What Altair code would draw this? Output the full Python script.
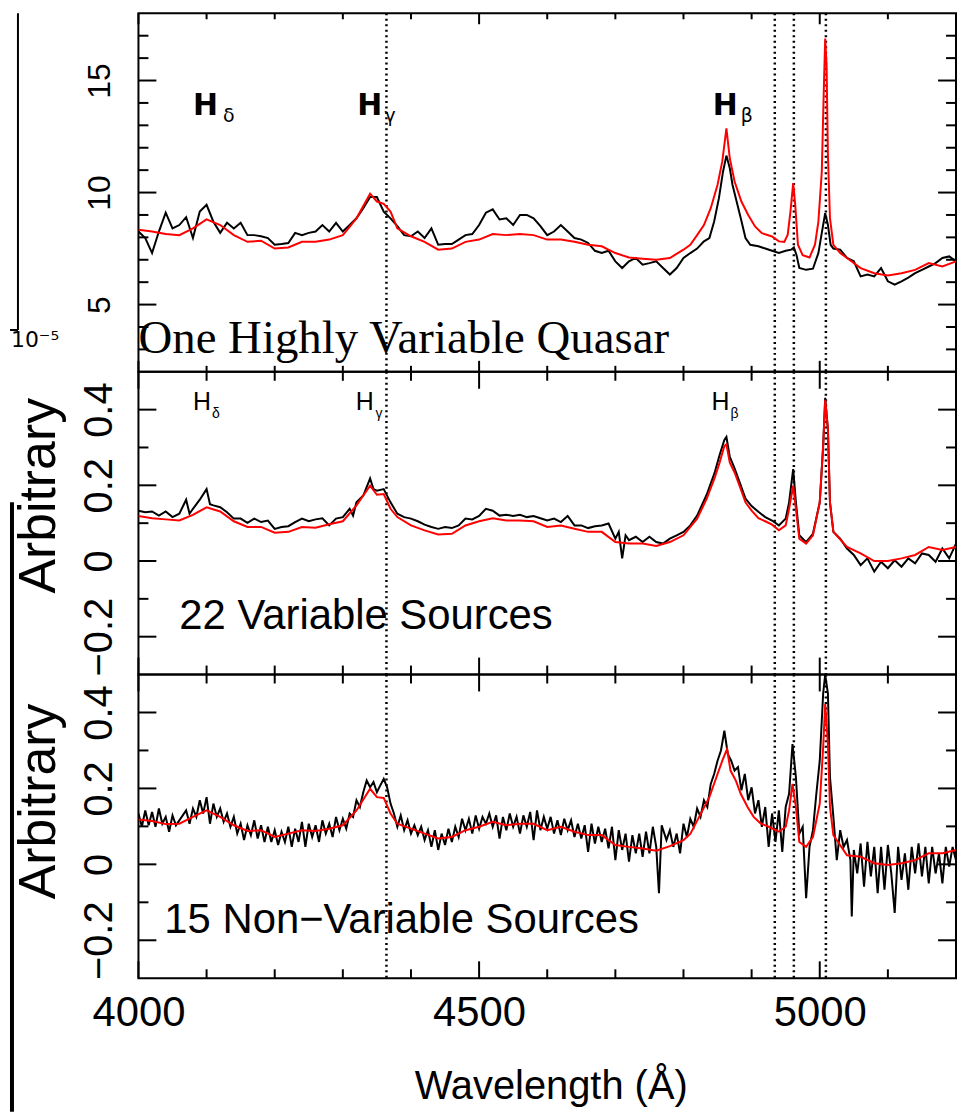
import altair as alt
import pandas as pd

# ---------------- data ----------------
# Panel 1: one highly variable quasar (black = one epoch, red = other epoch)
TOP_BLACK_WL = [4000, 4010, 4020, 4030, 4040, 4050, 4060, 4070, 4080, 4090, 4100, 4110, 4120, 4130, 4140,
                4150, 4160, 4170, 4180, 4190, 4200, 4210, 4220, 4230, 4240, 4250, 4260, 4270, 4280, 4290,
                4300, 4310, 4320, 4330, 4340, 4350, 4360, 4370, 4380, 4390, 4400, 4410, 4420, 4430, 4440,
                4450, 4460, 4470, 4480, 4490, 4500, 4510, 4520, 4530, 4540, 4550, 4560, 4570, 4580, 4590,
                4600, 4610, 4620, 4630, 4640, 4650, 4660, 4670, 4680, 4690, 4700, 4710, 4720, 4730, 4740,
                4750, 4760, 4770, 4780, 4790, 4800, 4810, 4820, 4830, 4838, 4845, 4852, 4858, 4863, 4868,
                4872, 4878, 4884, 4891, 4898, 4910, 4920, 4930, 4940, 4950, 4958, 4962, 4966, 4970, 4980,
                4990, 4998, 5003, 5008, 5012, 5016, 5020, 5030, 5040, 5050, 5060, 5070, 5080, 5090, 5100,
                5110, 5120, 5130, 5140, 5150, 5160, 5170, 5180, 5190, 5200]
TOP_BLACK_FLUX = [8.26, 7.97, 7.3, 8.26, 9.1, 8.4, 8.55, 8.9, 7.97, 9.15, 9.45, 8.7, 8.2, 8.65, 8.4,
                  8.65, 8.1, 8.1, 8.05, 7.97, 7.67, 7.7, 7.75, 8.2, 8.1, 8.2, 8.26, 8.55, 8.26, 8.65,
                  8.26, 8.55, 8.85, 9.3, 9.8, 9.8, 9.15, 8.85, 8.5, 8.1, 8.05, 8.26, 7.97, 8.4, 7.67,
                  7.7, 7.7, 7.9, 8.1, 8.15, 8.55, 9.1, 9.25, 8.8, 8.85, 8.55, 9.0, 9.0, 8.85, 8.5,
                  8.1, 8.26, 8.55, 8.26, 7.97, 7.9, 7.75, 7.4, 7.3, 7.4, 6.93, 6.63, 6.93, 7.08, 6.78,
                  6.85, 6.93, 6.63, 6.34, 6.63, 7.08, 7.3, 7.5, 7.82, 7.97, 8.71, 9.75, 10.93, 11.65, 11.08,
                  10.34, 9.6, 8.86, 7.97, 7.67, 7.6, 7.5, 7.4, 7.3, 7.4, 7.45, 7.55, 7.2, 6.63, 6.55,
                  6.6, 7.3, 8.2, 9.08, 8.55, 7.67, 7.5, 7.45, 7.08, 6.93, 6.26, 6.34, 6.26, 6.63, 6.04,
                  5.89, 6.04, 6.2, 6.4, 6.55, 6.7, 6.85, 7.08, 7.15, 6.93]
TOP_RED_WL = [4000, 4020, 4040, 4060, 4080, 4100, 4120, 4140, 4160, 4180, 4200, 4220, 4240, 4260, 4280,
              4300, 4320, 4340, 4350, 4360, 4370, 4380, 4400, 4420, 4440, 4460, 4480, 4500, 4520, 4540,
              4560, 4580, 4600, 4620, 4640, 4660, 4680, 4700, 4720, 4740, 4760, 4780, 4800, 4810, 4820,
              4830, 4840, 4850, 4857, 4863, 4868, 4875, 4885, 4895, 4905, 4915, 4930, 4940, 4948, 4953,
              4957, 4961, 4964, 4968, 4975, 4985, 4993, 4998, 5003, 5006, 5008, 5010, 5012, 5015, 5020,
              5030, 5040, 5060, 5080, 5100, 5120, 5140, 5160, 5180, 5200]
TOP_RED_FLUX = [8.34, 8.26, 8.15, 8.1, 8.4, 8.8, 8.55, 8.1, 7.8, 7.85, 7.5, 7.55, 7.8, 7.8, 7.9,
                8.1, 8.85, 9.95, 9.6, 9.5, 9.15, 8.4, 8.05, 7.8, 7.45, 7.5, 7.8, 7.9, 8.15, 8.1,
                8.15, 8.1, 7.9, 7.9, 7.8, 7.67, 7.6, 7.3, 7.1, 7.05, 7.0, 7.08, 7.45, 7.67, 8.1,
                8.55, 9.3, 10.35, 11.4, 12.86, 11.52, 10.49, 9.6, 9.0, 8.49, 8.19, 8.04, 7.82, 7.8, 8.12,
                9.15, 10.42, 9.45, 7.67, 7.2, 7.1, 7.67, 8.7, 10.93, 14.64, 16.87, 15.68, 11.68, 8.86, 7.67,
                7.3, 7.08, 6.63, 6.4, 6.3, 6.4, 6.55, 6.85, 6.7, 6.93]

# Panel 2: 22 variable sources
MID_BLACK_WL = [4000, 4010, 4020, 4030, 4040, 4050, 4060, 4070, 4075, 4080, 4090, 4100, 4105, 4110, 4120,
                4130, 4140, 4150, 4160, 4170, 4180, 4190, 4200, 4210, 4220, 4230, 4240, 4250, 4260, 4270,
                4280, 4290, 4300, 4310, 4315, 4320, 4330, 4340, 4345, 4350, 4360, 4370, 4380, 4390, 4400,
                4410, 4420, 4430, 4440, 4450, 4460, 4470, 4480, 4490, 4500, 4510, 4520, 4530, 4540, 4550,
                4560, 4570, 4580, 4590, 4600, 4610, 4620, 4630, 4640, 4650, 4660, 4670, 4680, 4690, 4700,
                4705, 4710, 4715, 4720, 4730, 4740, 4750, 4760, 4770, 4780, 4790, 4800, 4810, 4820, 4834,
                4846, 4853, 4860, 4863, 4868, 4875, 4883, 4891, 4900, 4910, 4920, 4930, 4940, 4950, 4955,
                4961, 4965, 4970, 4980, 4990, 5000, 5005, 5008, 5012, 5015, 5020, 5030, 5040, 5050, 5060,
                5070, 5080, 5090, 5100, 5110, 5120, 5130, 5140, 5150, 5160, 5170, 5180, 5190, 5200]
MID_BLACK_FLUX = [0.133, 0.129, 0.131, 0.12, 0.131, 0.116, 0.125, 0.162, 0.125, 0.138, 0.162, 0.19, 0.15, 0.147, 0.142,
                  0.129, 0.112, 0.112, 0.101, 0.112, 0.103, 0.107, 0.085, 0.09, 0.092, 0.103, 0.112, 0.105, 0.11, 0.113,
                  0.094, 0.112, 0.116, 0.138, 0.12, 0.155, 0.173, 0.218, 0.19, 0.186, 0.19, 0.155, 0.125, 0.116, 0.112,
                  0.105, 0.096, 0.09, 0.085, 0.09, 0.087, 0.094, 0.112, 0.11, 0.119, 0.138, 0.133, 0.12, 0.122, 0.119,
                  0.122, 0.116, 0.119, 0.113, 0.107, 0.112, 0.103, 0.119, 0.094, 0.094, 0.087, 0.092, 0.094, 0.099, 0.059,
                  0.077, 0.007, 0.068, 0.055, 0.064, 0.05, 0.064, 0.05, 0.046, 0.059, 0.068, 0.077, 0.094, 0.12, 0.175,
                  0.235, 0.28, 0.32, 0.328, 0.275, 0.245, 0.205, 0.165, 0.145, 0.13, 0.116, 0.107, 0.094, 0.112, 0.155,
                  0.243, 0.155, 0.068, 0.05, 0.072, 0.155, 0.304, 0.431, 0.348, 0.155, 0.077, 0.059, 0.033, 0.016, -0.011,
                  0.007, -0.028, -0.002, -0.019, 0.002, -0.015, 0.007, -0.006, 0.02, 0.016, -0.002, 0.033, 0.007, 0.046]
MID_RED_WL = [4000, 4020, 4040, 4060, 4080, 4100, 4120, 4140, 4160, 4180, 4200, 4220, 4240, 4260, 4280,
              4300, 4320, 4340, 4350, 4360, 4370, 4380, 4400, 4420, 4440, 4460, 4480, 4500, 4520, 4540,
              4560, 4580, 4600, 4620, 4640, 4660, 4680, 4700, 4720, 4740, 4760, 4780, 4800, 4820, 4834,
              4846, 4853, 4860, 4863, 4868, 4875, 4883, 4891, 4900, 4910, 4920, 4930, 4940, 4950, 4955,
              4961, 4965, 4970, 4980, 4990, 5000, 5005, 5008, 5012, 5015, 5020, 5040, 5060, 5080, 5100,
              5120, 5140, 5160, 5180, 5200]
MID_RED_FLUX = [0.119, 0.113, 0.11, 0.107, 0.122, 0.142, 0.131, 0.105, 0.09, 0.09, 0.075, 0.077, 0.09, 0.088, 0.097,
                0.105, 0.147, 0.199, 0.175, 0.177, 0.138, 0.116, 0.094, 0.081, 0.07, 0.072, 0.094, 0.105, 0.113, 0.107,
                0.107, 0.105, 0.09, 0.094, 0.085, 0.077, 0.077, 0.05, 0.046, 0.046, 0.04, 0.05, 0.068, 0.112, 0.164,
                0.221, 0.26, 0.304, 0.308, 0.26, 0.234, 0.195, 0.155, 0.133, 0.113, 0.105, 0.096, 0.081, 0.094, 0.138,
                0.199, 0.138, 0.059, 0.046, 0.068, 0.155, 0.304, 0.426, 0.348, 0.155, 0.077, 0.037, 0.02, 0.0, 0.0,
                0.007, 0.016, 0.037, 0.029, 0.037]

# Panel 3: 15 non-variable sources
BOT_BLACK_WL = [4000, 4005, 4010, 4015, 4020, 4025, 4030, 4035, 4040, 4045, 4050, 4055, 4060, 4070, 4075,
                4080, 4085, 4090, 4095, 4100, 4105, 4110, 4115, 4120, 4125, 4130, 4135, 4140, 4145, 4150,
                4155, 4160, 4165, 4170, 4175, 4180, 4185, 4190, 4195, 4200, 4205, 4210, 4215, 4220, 4225,
                4230, 4235, 4240, 4245, 4250, 4255, 4260, 4265, 4270, 4275, 4280, 4285, 4290, 4295, 4300,
                4305, 4310, 4315, 4320, 4325, 4330, 4335, 4340, 4345, 4350, 4355, 4360, 4365, 4370, 4375,
                4380, 4385, 4390, 4395, 4400, 4405, 4410, 4415, 4420, 4425, 4430, 4435, 4440, 4445, 4450,
                4455, 4460, 4465, 4470, 4475, 4480, 4485, 4490, 4495, 4500, 4505, 4510, 4515, 4520, 4525,
                4530, 4535, 4540, 4545, 4550, 4555, 4560, 4565, 4570, 4575, 4580, 4585, 4590, 4595, 4600,
                4605, 4610, 4615, 4620, 4625, 4630, 4635, 4640, 4645, 4650, 4655, 4660, 4665, 4670, 4675,
                4680, 4685, 4690, 4695, 4700, 4705, 4710, 4715, 4720, 4725, 4730, 4735, 4740, 4745, 4750,
                4755, 4760, 4764, 4768, 4775, 4780, 4785, 4790, 4795, 4800, 4805, 4810, 4815, 4820, 4825,
                4830, 4835, 4840, 4845, 4850, 4855, 4860, 4865, 4870, 4875, 4880, 4885, 4890, 4895, 4900,
                4905, 4910, 4915, 4920, 4925, 4930, 4935, 4940, 4945, 4950, 4955, 4960, 4965, 4970, 4975,
                4980, 4985, 4990, 4995, 5000, 5005, 5008, 5012, 5015, 5020, 5025, 5030, 5035, 5040, 5045,
                5047, 5050, 5055, 5060, 5065, 5070, 5075, 5080, 5085, 5090, 5095, 5100, 5105, 5110, 5115,
                5120, 5125, 5130, 5135, 5140, 5145, 5150, 5155, 5160, 5165, 5170, 5175, 5180, 5185, 5190,
                5195, 5200]
BOT_BLACK_FLUX = [0.134, 0.099, 0.142, 0.103, 0.138, 0.099, 0.147, 0.107, 0.125, 0.086, 0.129, 0.103, 0.116, 0.142, 0.107,
                  0.147, 0.125, 0.169, 0.134, 0.177, 0.107, 0.16, 0.125, 0.147, 0.112, 0.134, 0.099, 0.125, 0.081, 0.107,
                  0.064, 0.103, 0.077, 0.116, 0.068, 0.103, 0.059, 0.099, 0.059, 0.09, 0.051, 0.086, 0.059, 0.099, 0.046,
                  0.094, 0.059, 0.112, 0.046, 0.107, 0.072, 0.103, 0.059, 0.116, 0.081, 0.107, 0.072, 0.125, 0.09, 0.12,
                  0.094, 0.134, 0.125, 0.169, 0.151, 0.19, 0.221, 0.203, 0.217, 0.19, 0.208, 0.225, 0.203, 0.16, 0.134,
                  0.099, 0.129, 0.09, 0.116, 0.081, 0.103, 0.077, 0.099, 0.064, 0.09, 0.046, 0.09, 0.038, 0.081, 0.051,
                  0.094, 0.059, 0.099, 0.072, 0.12, 0.09, 0.12, 0.081, 0.129, 0.094, 0.125, 0.107, 0.134, 0.099, 0.129,
                  0.068, 0.125, 0.09, 0.134, 0.099, 0.125, 0.081, 0.129, 0.099, 0.138, 0.064, 0.142, 0.09, 0.125, 0.094,
                  0.125, 0.081, 0.116, 0.077, 0.12, 0.09, 0.116, 0.072, 0.107, 0.068, 0.103, 0.033, 0.107, 0.055, 0.099,
                  0.059, 0.094, 0.042, 0.099, 0.011, 0.09, 0.038, 0.081, 0.007, 0.077, 0.029, 0.081, 0.02, 0.086, 0.029,
                  0.099, 0.046, -0.076, 0.103, 0.064, 0.09, 0.046, 0.081, 0.029, 0.107, 0.072, 0.12, 0.099, 0.147, 0.125,
                  0.169, 0.151, 0.212, 0.238, 0.273, 0.3, 0.352, 0.291, 0.273, 0.247, 0.256, 0.195, 0.238, 0.169, 0.203,
                  0.134, 0.169, 0.099, 0.151, 0.046, 0.134, 0.059, 0.142, 0.033, 0.151, 0.186, 0.317, 0.23, 0.081, 0.099,
                  -0.089, 0.046, 0.09, 0.186, 0.273, 0.45, 0.5, 0.45, 0.23, 0.125, 0.011, 0.09, 0.046, 0.064, 0.011,
                  -0.137, 0.038, -0.024, 0.055, -0.059, 0.059, -0.032, 0.046, -0.076, 0.046, -0.067, 0.051, -0.024, -0.128, 0.046,
                  -0.041, 0.029, -0.067, 0.046, -0.024, 0.055, -0.032, 0.046, -0.05, 0.046, -0.024, 0.029, -0.05, 0.046, -0.006,
                  0.046, 0.011]
BOT_RED_WL = [4000, 4020, 4040, 4060, 4080, 4100, 4120, 4140, 4160, 4180, 4200, 4220, 4240, 4260, 4280,
              4300, 4320, 4340, 4350, 4360, 4370, 4380, 4400, 4420, 4440, 4460, 4480, 4500, 4520, 4540,
              4560, 4580, 4600, 4620, 4640, 4660, 4680, 4700, 4720, 4740, 4760, 4780, 4800, 4810, 4823,
              4838, 4850, 4857, 4864, 4869, 4877, 4884, 4894, 4903, 4913, 4925, 4940, 4950, 4955, 4960,
              4965, 4970, 4980, 4990, 5000, 5005, 5008, 5012, 5015, 5020, 5040, 5060, 5080, 5100, 5120,
              5140, 5160, 5180, 5200]
BOT_RED_FLUX = [0.118, 0.114, 0.106, 0.107, 0.125, 0.142, 0.125, 0.103, 0.088, 0.09, 0.072, 0.081, 0.09, 0.088, 0.094,
                0.103, 0.142, 0.199, 0.177, 0.175, 0.134, 0.107, 0.094, 0.081, 0.068, 0.072, 0.09, 0.099, 0.112, 0.103,
                0.107, 0.107, 0.09, 0.099, 0.086, 0.077, 0.077, 0.051, 0.046, 0.042, 0.036, 0.048, 0.064, 0.08, 0.125,
                0.177, 0.238, 0.273, 0.304, 0.247, 0.22, 0.186, 0.151, 0.125, 0.108, 0.099, 0.086, 0.099, 0.142, 0.212,
                0.151, 0.059, 0.046, 0.072, 0.16, 0.308, 0.422, 0.317, 0.151, 0.077, 0.024, 0.02, 0.003, -0.002, 0.003,
                0.011, 0.029, 0.029, 0.038]

# Emission-line markers (dotted verticals), axis ticks
LINE_MARKERS = [4364, 4934, 4962, 5009]
X_MAJOR = [4000, 4500, 5000]
X_MINOR = [4100, 4200, 4300, 4400, 4600, 4700, 4800, 4900, 5100]
TOP_Y_MAJOR = [5, 10, 15]
TOP_Y_MINOR = [3, 4, 6, 7, 8, 9, 11, 12, 13, 14, 16, 17]
ARB_Y_MAJOR = [-0.2, 0, 0.2, 0.4]
ARB_Y_MINOR = [-0.1, 0.1, 0.3]

# ---------------- chart ----------------
W = 821
FONT = "Liberation Sans"


def xenc(axis):
    return alt.X("wl:Q", scale=alt.Scale(domain=[4000, 5200], nice=False, zero=False), axis=axis)


def yenc(domain, axis):
    return alt.Y("f:Q", scale=alt.Scale(domain=domain, nice=False, zero=False), axis=axis)


def panel(bw, bf, rw, rf, ydom, ymaj, ymin, height, xaxis, yaxis, ylen, xlen, texts):
    X = xenc(xaxis)
    Y = yenc(ydom, yaxis)
    layers = []
    # inward ticks on all four sides
    for vals, L in ((ymaj, ylen[0]), (ymin, ylen[1])):
        d = pd.DataFrame({"f": vals})
        layers.append(alt.Chart(d).mark_rule(color="black", strokeWidth=2)
                      .encode(y=Y, x=alt.value(0), x2=alt.value(L)))
        layers.append(alt.Chart(d).mark_rule(color="black", strokeWidth=2)
                      .encode(y=Y, x=alt.value(W - L), x2=alt.value(W)))
    for vals, L in ((X_MAJOR, xlen[0]), (X_MINOR, xlen[1])):
        d = pd.DataFrame({"wl": vals})
        layers.append(alt.Chart(d).mark_rule(color="black", strokeWidth=2)
                      .encode(x=X, y=alt.value(0), y2=alt.value(L)))
        layers.append(alt.Chart(d).mark_rule(color="black", strokeWidth=2)
                      .encode(x=X, y=alt.value(height - L), y2=alt.value(height)))
    # dotted line markers
    layers.append(alt.Chart(pd.DataFrame({"wl": LINE_MARKERS}))
                  .mark_rule(color="black", strokeWidth=2.5, strokeDash=[2, 3.5]).encode(x=X))
    # spectra
    layers.append(alt.Chart(pd.DataFrame({"wl": bw, "f": bf}))
                  .mark_line(color="black", strokeWidth=2, clip=True).encode(x=X, y=Y))
    layers.append(alt.Chart(pd.DataFrame({"wl": rw, "f": rf}))
                  .mark_line(color="#ff0000", strokeWidth=2, clip=True).encode(x=X, y=Y))
    # annotations
    for t in texts:
        d = pd.DataFrame({"wl": [t["wl"]], "f": [t["f"]], "t": [t["text"]]})
        layers.append(alt.Chart(d).mark_text(
            align="left", baseline="alphabetic", font=t.get("font", FONT),
            fontSize=t["size"], fontWeight=t.get("weight", "normal"), color="black"
        ).encode(x=X, y=Y, text="t:N"))
    return layers, height


def yaxis(values, size, pad, title=None, title_y=None):
    kw = dict(values=values, ticks=False, tickSize=0, domain=False, grid=False,
              labelAngle=270, labelAlign="center", labelBaseline="alphabetic",
              labelPadding=pad, labelFontSize=size, labelColor="black", labelFont=FONT,
              format="~g", labelOverlap=False, labelFlush=False)
    if title is None:
        kw["title"] = None
    else:
        kw.update(title=title, titleFontSize=52, titleFontWeight="normal", titleFont=FONT,
                  titleColor="black", titleAngle=270, titleAlign="center",
                  titleBaseline="alphabetic", titleX=-84, titleY=title_y)
    return alt.Axis(**kw)


BOLD = "DejaVu Sans"
top_texts = [
    dict(wl=4080, f=13.46, text="H", size=30, weight="bold", font=BOLD),
    dict(wl=4124, f=13.15, text="δ", size=19, font=BOLD),
    dict(wl=4321, f=13.46, text="H", size=30, weight="bold", font=BOLD),
    dict(wl=4361, f=13.15, text="γ", size=19, font=BOLD),
    dict(wl=4843, f=13.46, text="H", size=30, weight="bold", font=BOLD),
    dict(wl=4884, f=13.15, text="β", size=19, font=BOLD),
    dict(wl=4000, f=2.86, text="One Highly Variable Quasar", size=47, font="Liberation Serif"),
]
mid_texts = [
    dict(wl=4080, f=0.4, text="H", size=25),
    dict(wl=4108, f=0.378, text="δ", size=14),
    dict(wl=4319, f=0.4, text="H", size=25),
    dict(wl=4348, f=0.378, text="γ", size=14),
    dict(wl=4841, f=0.4, text="H", size=25),
    dict(wl=4869, f=0.378, text="β", size=14),
    dict(wl=4060, f=-0.18, text="22 Variable Sources", size=42),
]
bot_texts = [
    dict(wl=4038, f=-0.18, text="15 Non\u2212Variable Sources", size=42),
]

top_layers, h1 = panel(TOP_BLACK_WL, TOP_BLACK_FLUX, TOP_RED_WL, TOP_RED_FLUX, [2, 18],
                       TOP_Y_MAJOR, TOP_Y_MINOR, 360, None, yaxis(TOP_Y_MAJOR, 32, 29),
                       (18, 10), (11, 6), top_texts)

# fragments of the neighbouring figure visible at the far left of the crop
one = pd.DataFrame({"a": [0]})
top_layers += [
    alt.Chart(one).mark_rect(color="black").encode(
        x=alt.value(-129), x2=alt.value(-125), y=alt.value(491), y2=alt.value(1103)),
    alt.Chart(one).mark_rule(color="black", strokeWidth=2).encode(
        x=alt.value(-121), y=alt.value(0), y2=alt.value(318)),
    alt.Chart(one).mark_rule(color="black", strokeWidth=2).encode(
        x=alt.value(-129), x2=alt.value(-121), y=alt.value(318)),
    alt.Chart(one).mark_text(text="10\u207b\u2075", align="left", baseline="alphabetic",
                             fontSize=22, font="DejaVu Sans", color="black").encode(
        x=alt.value(-128), y=alt.value(335)),
]
top = alt.layer(*top_layers).properties(width=W, height=h1)

mid_layers, h2 = panel(MID_BLACK_WL, MID_BLACK_FLUX, MID_RED_WL, MID_RED_FLUX, [-0.3, 0.5],
                       ARB_Y_MAJOR, ARB_Y_MINOR, 304, None,
                       yaxis(ARB_Y_MAJOR, 40, 27, "Arbitrary", 124),
                       (18, 10), (17, 9), mid_texts)
mid = alt.layer(*mid_layers).properties(width=W, height=h2)

xaxis_bottom = alt.Axis(values=X_MAJOR, ticks=False, tickSize=0, domain=False, grid=False,
                        labelAngle=0, labelAlign="center", labelBaseline="alphabetic",
                        labelPadding=47, labelFontSize=42, labelColor="black", labelFont=FONT,
                        labelFlush=False, labelOverlap=False, format="d",
                        title="Wavelength (Å)", titleFontSize=40, titleFontWeight="normal",
                        titleFont=FONT, titleColor="black", titleBaseline="alphabetic",
                        titleAlign="center", titleX=414, titleY=121)
bot_layers, h3 = panel(BOT_BLACK_WL, BOT_BLACK_FLUX, BOT_RED_WL, BOT_RED_FLUX, [-0.3, 0.5],
                       ARB_Y_MAJOR, ARB_Y_MINOR, 305, xaxis_bottom,
                       yaxis(ARB_Y_MAJOR, 40, 27, "Arbitrary", 127),
                       (18, 10), (17, 9), bot_texts)
bot = alt.layer(*bot_layers).properties(width=W, height=h3)

chart = (
    alt.vconcat(top, mid, bot, spacing=0, bounds="flush")
    .properties(padding=0, background="white")
    .configure(font=FONT)
    .configure_view(stroke="black", strokeWidth=2)
)

chart.save("out.html", embed_options={"renderer": "svg", "actions": False})
